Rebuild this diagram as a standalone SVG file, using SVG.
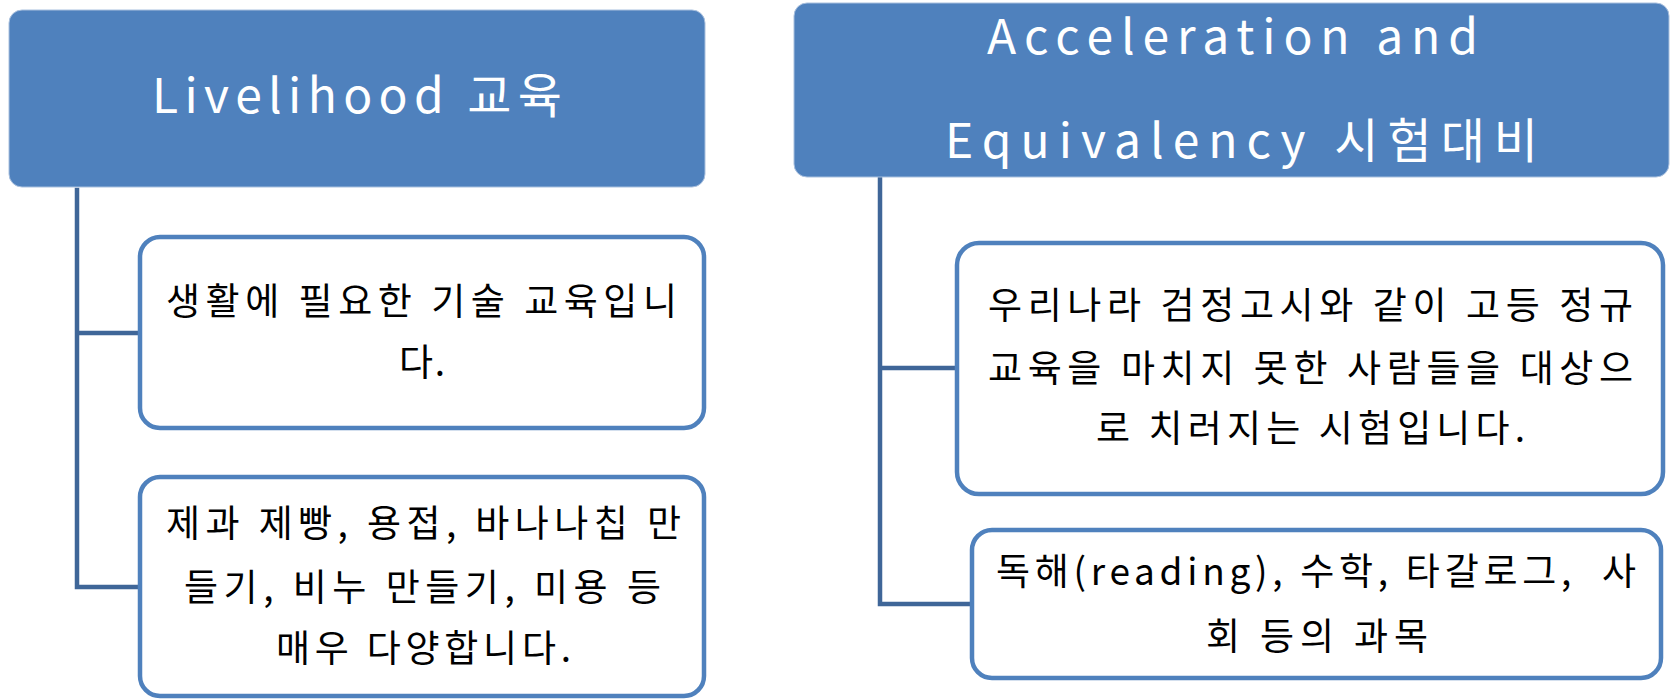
<svg xmlns="http://www.w3.org/2000/svg" width="1671" height="700" viewBox="0 0 1671 700">
<style>
.hdr{fill:#4f81bd;stroke:#a9c0de;stroke-width:1}
.box{fill:#ffffff;stroke:#4f81bd;stroke-width:4.5}
.con{fill:none;stroke:#3f6698;stroke-width:4.5;stroke-linecap:square}
.ht{font-family:"Noto Sans CJK KR","Noto Sans",sans-serif;font-size:48px;fill:#ffffff}
.bt{font-family:"Noto Sans CJK KR","Noto Sans",sans-serif;font-size:37px;fill:#000000}
</style>
<rect width="1671" height="700" fill="#ffffff"/>
<g id="connectors">
<path class="con" d="M77,190 V587 M77,333 H140 M77,587 H140"/>
<path class="con" d="M880,179 V604 M880,368 H957 M880,604 H972"/>
</g>
<g id="livelihood">
<rect class="hdr" x="9" y="10" width="696" height="177" rx="13"/>
<text class="ht" x="152" y="113" textLength="410" lengthAdjust="spacing">Livelihood 교육</text>
</g>
<g id="livelihood-desc">
<rect class="box" x="140" y="237" width="564" height="191" rx="20"/>
<text class="bt" x="166" y="315" textLength="511" lengthAdjust="spacing">생활에 필요한 기술 교육입니</text>
<text class="bt" x="399" y="376" textLength="46" lengthAdjust="spacing">다.</text>
</g>
<g id="livelihood-examples">
<rect class="box" x="140" y="477" width="564" height="219" rx="20"/>
<text class="bt" x="166" y="537" textLength="515" lengthAdjust="spacing">제과 제빵, 용접, 바나나칩 만</text>
<text class="bt" x="184" y="601" textLength="477" lengthAdjust="spacing">들기, 비누 만들기, 미용 등</text>
<text class="bt" x="276" y="662" textLength="295" lengthAdjust="spacing">매우 다양합니다.</text>
</g>
<g id="acceleration">
<rect class="hdr" x="794" y="3" width="875" height="174" rx="13"/>
<text class="ht" x="987" y="54" textLength="491" lengthAdjust="spacing">Acceleration and</text>
<text class="ht" x="945" y="158" textLength="593" lengthAdjust="spacing">Equivalency 시험대비</text>
</g>
<g id="acceleration-desc">
<rect class="box" x="957" y="243" width="706" height="251" rx="22"/>
<text class="bt" x="988" y="319" textLength="645" lengthAdjust="spacing">우리나라 검정고시와 같이 고등 정규</text>
<text class="bt" x="988" y="382" textLength="645" lengthAdjust="spacing">교육을 마치지 못한 사람들을 대상으</text>
<text class="bt" x="1096" y="442" textLength="429" lengthAdjust="spacing">로 치러지는 시험입니다.</text>
</g>
<g id="acceleration-subjects">
<rect class="box" x="972" y="530" width="689" height="148" rx="20"/>
<text class="bt" x="996" y="585" textLength="640" lengthAdjust="spacing" xml:space="preserve">독해(reading), 수학, 타갈로그,  사</text>
<text class="bt" x="1206" y="650" textLength="222" lengthAdjust="spacing">회 등의 과목</text>
</g>
</svg>
